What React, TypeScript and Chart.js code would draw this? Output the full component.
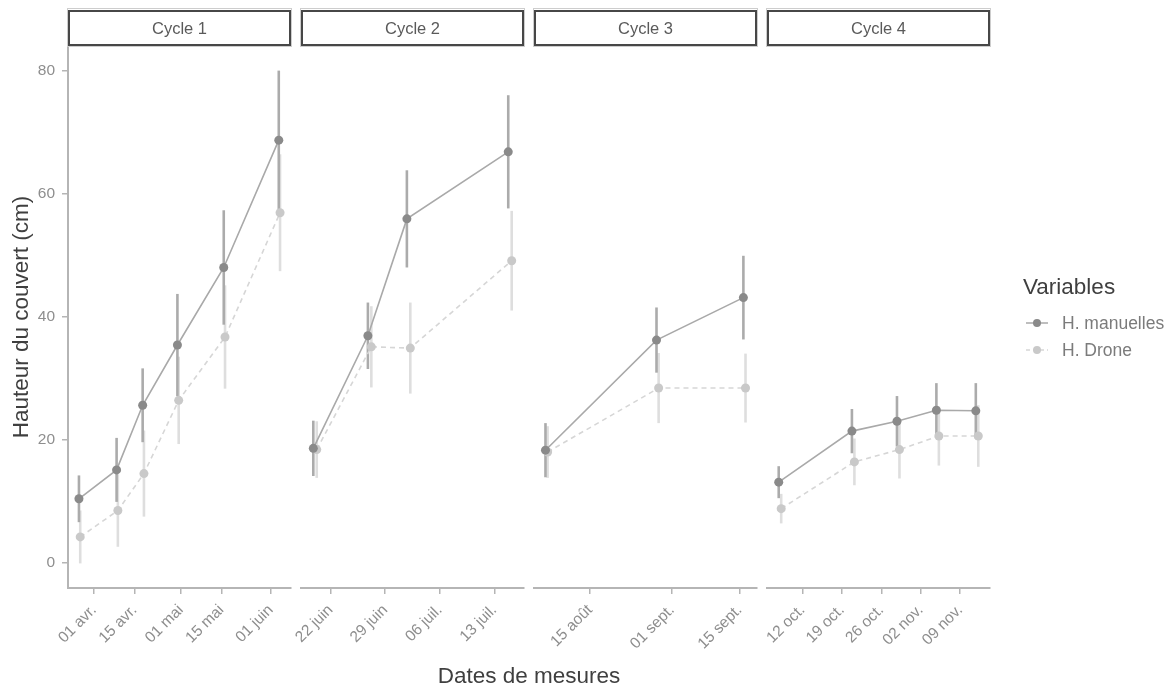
import React, { useEffect, useRef } from 'react';
import { Chart, registerables } from 'chart.js';

Chart.register(...registerables);

// ---------------- DATA ----------------
const seriesNames = ['H. manuelles', 'H. Drone'];
const cycleNames = ['Cycle 1', 'Cycle 2', 'Cycle 3', 'Cycle 4'];

const cycle1Dates = ['2021-03-27', '2021-04-09', '2021-04-18', '2021-04-30', '2021-05-16', '2021-06-04'];
const cycle1Manuelles = [10.4, 15.1, 25.6, 35.4, 48.0, 68.7];
const cycle1ManuellesSd = [3.8, 5.2, 6.0, 8.3, 9.3, 11.3];
const cycle1Drone = [4.2, 8.5, 14.5, 26.4, 36.7, 56.9];
const cycle1DroneSd = [4.3, 5.9, 7.0, 7.1, 8.4, 9.5];
const cycle1TickDates = ['2021-04-01', '2021-04-15', '2021-05-01', '2021-05-15', '2021-06-01'];
const cycle1TickLabels = ['01 avr.', '15 avr.', '01 mai', '15 mai', '01 juin'];

const cycle2Dates = ['2021-06-20', '2021-06-27', '2021-07-02', '2021-07-15'];
const cycle2Manuelles = [18.6, 36.9, 55.9, 66.8];
const cycle2ManuellesSd = [4.5, 5.4, 7.9, 9.2];
const cycle2Drone = [18.4, 35.1, 34.9, 49.1];
const cycle2DroneSd = [4.6, 6.6, 7.4, 8.1];
const cycle2TickDates = ['2021-06-22', '2021-06-29', '2021-07-06', '2021-07-13'];
const cycle2TickLabels = ['22 juin', '29 juin', '06 juil.', '13 juil.'];

const cycle3Dates = ['2021-08-06', '2021-08-29', '2021-09-16'];
const cycle3Manuelles = [18.3, 36.2, 43.1];
const cycle3ManuellesSd = [4.4, 5.3, 6.8];
const cycle3Drone = [18.0, 28.4, 28.4];
const cycle3DroneSd = [4.2, 5.7, 5.6];
const cycle3TickDates = ['2021-08-15', '2021-09-01', '2021-09-15'];
const cycle3TickLabels = ['15 août', '01 sept.', '15 sept.'];

const cycle4Dates = ['2021-10-08', '2021-10-21', '2021-10-29', '2021-11-05', '2021-11-12'];
const cycle4Manuelles = [13.1, 21.4, 23.0, 24.8, 24.7];
const cycle4ManuellesSd = [2.6, 3.6, 4.1, 4.4, 4.5];
const cycle4Drone = [8.8, 16.4, 18.4, 20.6, 20.6];
const cycle4DroneSd = [2.4, 3.8, 4.7, 4.8, 5.0];
const cycle4TickDates = ['2021-10-12', '2021-10-19', '2021-10-26', '2021-11-02', '2021-11-09'];
const cycle4TickLabels = ['12 oct.', '19 oct.', '26 oct.', '02 nov.', '09 nov.'];

const yTicks = [0, 20, 40, 60, 80];
const yTitle = 'Hauteur du couvert (cm)';
const xTitle = 'Dates de mesures';
const legendTitle = 'Variables';

// ---------------- STYLE / LAYOUT ----------------
const W = 1168;
const H = 689;
const FONT = "'Liberation Sans', Arial, Helvetica, sans-serif";
const PANEL_LEFT0 = 68;
const PANEL_W = 223;
const PANEL_GAP = 10;
const PANEL_TOP = 46;
const PANEL_BOTTOM = 588;
const STRIP_TOP = 10;
const DODGE = 0.22;
const TICK_SIZE = 15.5;
const TITLE_SIZE = 22.5;

const M_LINE = '#a9a9a9';
const M_POINT = '#8a8a8a';
const M_ERR = '#ababab';
const D_LINE = '#d6d6d6';
const D_POINT = '#c9c9c9';
const D_ERR = '#dedede';
const AXIS = '#b5b5b5';
const TICK_TEXT = '#8e8e8e';

const cycles = [
  { dates: cycle1Dates, m: cycle1Manuelles, msd: cycle1ManuellesSd, d: cycle1Drone, dsd: cycle1DroneSd, tickDates: cycle1TickDates, tickLabels: cycle1TickLabels },
  { dates: cycle2Dates, m: cycle2Manuelles, msd: cycle2ManuellesSd, d: cycle2Drone, dsd: cycle2DroneSd, tickDates: cycle2TickDates, tickLabels: cycle2TickLabels },
  { dates: cycle3Dates, m: cycle3Manuelles, msd: cycle3ManuellesSd, d: cycle3Drone, dsd: cycle3DroneSd, tickDates: cycle3TickDates, tickLabels: cycle3TickLabels },
  { dates: cycle4Dates, m: cycle4Manuelles, msd: cycle4ManuellesSd, d: cycle4Drone, dsd: cycle4DroneSd, tickDates: cycle4TickDates, tickLabels: cycle4TickLabels },
];

const dayOf = (s: string) => {
  const [yy, mm, dd] = s.split('-').map(Number);
  return (Date.UTC(yy, mm - 1, dd) - Date.UTC(yy, 0, 1)) / 86400000 + 1;
};

const errorBarPlugin = {
  id: 'errorBars',
  beforeDatasetsDraw(chart: any) {
    const { ctx } = chart;
    const xs = chart.scales.x;
    const ys = chart.scales.y;
    ctx.save();
    for (let k = chart.data.datasets.length - 1; k >= 0; k--) {
      const ds = chart.data.datasets[k];
      ctx.strokeStyle = ds.errorColor;
      ctx.lineWidth = 2.6;
      ctx.lineCap = 'butt';
      ds.data.forEach((p: any, i: number) => {
        const px = xs.getPixelForValue(p.x);
        ctx.beginPath();
        ctx.moveTo(px, ys.getPixelForValue(p.y - ds.errors[i]));
        ctx.lineTo(px, ys.getPixelForValue(p.y + ds.errors[i]));
        ctx.stroke();
      });
    }
    ctx.restore();
  },
};

const stripPlugin = {
  id: 'facetStrip',
  afterDraw(chart: any, _args: any, opts: any) {
    const { ctx, chartArea } = chart;
    const { left, right, top } = chartArea;
    ctx.save();
    ctx.fillStyle = '#ffffff';
    ctx.fillRect(left, STRIP_TOP, right - left, top - STRIP_TOP);
    ctx.strokeStyle = '#cdcdcd';
    ctx.lineWidth = 1;
    ctx.strokeRect(left - 0.5, STRIP_TOP - 1.5, right - left + 1, top - STRIP_TOP + 2);
    ctx.strokeStyle = '#474747';
    ctx.lineWidth = 2;
    ctx.strokeRect(left + 1, STRIP_TOP + 1, right - left - 2, top - STRIP_TOP - 2);
    ctx.fillStyle = '#5a5a5a';
    ctx.font = `16.5px ${FONT}`;
    ctx.textAlign = 'center';
    ctx.textBaseline = 'middle';
    ctx.fillText(opts.text, (left + right) / 2, (STRIP_TOP + top) / 2 + 1);
    ctx.restore();
  },
};

const figurePlugin = {
  id: 'figureText',
  afterDraw(chart: any, _args: any, opts: any) {
    if (!opts.enabled) return;
    const { ctx } = chart;
    ctx.save();
    ctx.fillStyle = '#3f3f3f';
    ctx.font = `${TITLE_SIZE}px ${FONT}`;
    ctx.textAlign = 'center';
    ctx.textBaseline = 'middle';
    const lastRight = PANEL_LEFT0 + 3 * (PANEL_W + PANEL_GAP) + PANEL_W;
    ctx.fillText(xTitle, (PANEL_LEFT0 + lastRight) / 2, 677);
    ctx.textAlign = 'left';
    ctx.fillText(legendTitle, 1023, 288);
    const lineCols = [M_LINE, D_LINE];
    const ptCols = [M_POINT, D_POINT];
    seriesNames.forEach((name, i) => {
      const y = 323 + 27 * i;
      ctx.strokeStyle = lineCols[i];
      ctx.lineWidth = 1.5;
      ctx.setLineDash(i === 1 ? [4, 3] : []);
      ctx.beginPath();
      ctx.moveTo(1026, y);
      ctx.lineTo(1048, y);
      ctx.stroke();
      ctx.setLineDash([]);
      ctx.fillStyle = ptCols[i];
      ctx.beginPath();
      ctx.arc(1037, y, 4, 0, Math.PI * 2);
      ctx.fill();
      ctx.fillStyle = '#7b7b7b';
      ctx.font = `17.5px ${FONT}`;
      ctx.fillText(name, 1062, y + 1);
    });
    ctx.restore();
  },
};

function Panel({ index }: { index: number }) {
  const ref = useRef<HTMLCanvasElement>(null);
  useEffect(() => {
    const c = cycles[index];
    const days = c.dates.map(dayOf);
    const span = days[days.length - 1] - days[0];
    const xMin = days[0] - 0.05 * span - 0.55;
    const xMax = days[days.length - 1] + 0.05 * span + 0.55;
    const tickVals = c.tickDates.map(dayOf);
    const left = PANEL_LEFT0 + index * (PANEL_W + PANEL_GAP);
    const right = left + PANEL_W;
    const first = index === 0;

    const chart = new Chart(ref.current as HTMLCanvasElement, {
      type: 'line',
      data: {
        datasets: [
          {
            label: seriesNames[0],
            data: days.map((x, i) => ({ x: x - DODGE, y: c.m[i] })),
            errors: c.msd,
            errorColor: M_ERR,
            borderColor: M_LINE,
            borderWidth: 1.6,
            pointRadius: 4.5,
            pointBorderWidth: 0,
            pointBackgroundColor: M_POINT,
            tension: 0,
          } as any,
          {
            label: seriesNames[1],
            data: days.map((x, i) => ({ x: x + DODGE, y: c.d[i] })),
            errors: c.dsd,
            errorColor: D_ERR,
            borderColor: D_LINE,
            borderWidth: 1.6,
            borderDash: [5, 4],
            pointRadius: 4.5,
            pointBorderWidth: 0,
            pointBackgroundColor: D_POINT,
            tension: 0,
          } as any,
        ],
      },
      options: {
        animation: false,
        responsive: false,
        maintainAspectRatio: false,
        devicePixelRatio: 1,
        events: [],
        layout: {
          autoPadding: false,
          padding: { left: first ? 0 : left, right: W - right, top: PANEL_TOP, bottom: 0 },
        },
        plugins: {
          legend: { display: false },
          tooltip: { enabled: false },
          facetStrip: { text: cycleNames[index] },
          figureText: { enabled: index === 3 },
        } as any,
        scales: {
          x: {
            type: 'linear',
            min: xMin,
            max: xMax,
            offset: false,
            afterBuildTicks: (s: any) => {
              s.ticks = tickVals.map((v) => ({ value: v }));
            },
            afterFit: (s: any) => {
              s.height = H - PANEL_BOTTOM;
            },
            ticks: {
              autoSkip: false,
              maxRotation: 45,
              minRotation: 45,
              padding: 7,
              color: TICK_TEXT,
              font: { size: TICK_SIZE, family: FONT },
              callback: (_v: any, i: number) => c.tickLabels[i],
            },
            grid: {
              display: true,
              drawOnChartArea: false,
              drawTicks: true,
              tickLength: 6,
              color: AXIS,
              lineWidth: 1.5,
            },
            border: { display: true, color: AXIS, width: 2 },
          },
          y: {
            display: first,
            min: -4.1,
            max: 84,
            afterBuildTicks: (s: any) => {
              s.ticks = yTicks.map((v) => ({ value: v }));
            },
            afterFit: (s: any) => {
              s.width = first ? PANEL_LEFT0 : 0;
            },
            ticks: {
              padding: 7,
              color: TICK_TEXT,
              font: { size: TICK_SIZE, family: FONT },
            },
            grid: {
              display: true,
              drawOnChartArea: false,
              drawTicks: true,
              tickLength: 6,
              color: AXIS,
              lineWidth: 1.5,
            },
            border: { display: true, color: AXIS, width: 2 },
            title: {
              display: true,
              text: yTitle,
              color: '#3f3f3f',
              font: { size: TITLE_SIZE, family: FONT },
              padding: { top: 8.5, bottom: 0 },
            },
          },
        },
      } as any,
      plugins: [errorBarPlugin, stripPlugin, figurePlugin],
    });
    return () => chart.destroy();
  }, [index]);

  return (
    <canvas
      ref={ref}
      width={W}
      height={H}
      style={{ position: 'absolute', left: 0, top: 0, width: W, height: H }}
    />
  );
}

export default function App() {
  return (
    <div style={{ position: 'absolute', left: 0, top: 0, width: W, height: H, background: '#ffffff' }}>
      {[0, 1, 2, 3].map((i) => (
        <Panel key={i} index={i} />
      ))}
    </div>
  );
}
